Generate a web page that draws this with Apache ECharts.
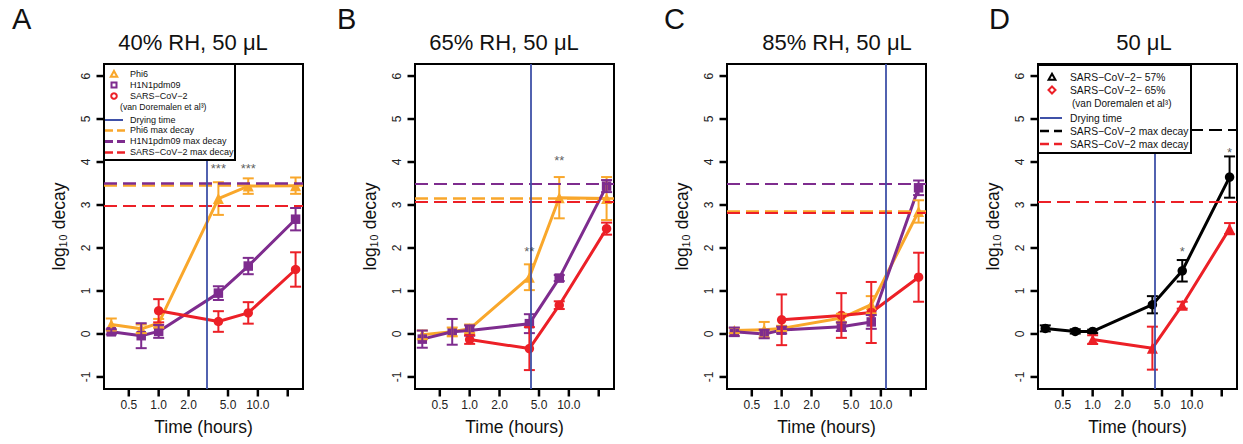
<!DOCTYPE html>
<html>
<head>
<meta charset="utf-8">
<script src="https://cdn.jsdelivr.net/npm/echarts@6/dist/echarts.min.js"></script>
<style>html,body{margin:0;padding:0;background:#fff}#c{width:1243px;height:444px}</style>
</head>
<body>
<div id="c"></div>
<script>
// ---------- data ----------
const hours = [0.333, 0.667, 1, 4, 8, 24];
const xTickHours = [0.5, 1, 2, 5, 10, 20];
const xTickLabels = ['0.5', '1.0', '2.0', '5.0', '10.0', ''];
const yTicks = [-1, 0, 1, 2, 3, 4, 5, 6];
const panelTitles = ['40% RH, 50 μL', '65% RH, 50 μL', '85% RH, 50 μL', '50 μL'];
const panelLetters = ['A', 'B', 'C', 'D'];

// Panel A
const phi6A = [0.22, 0.12, 0.25, 3.15, 3.44, 3.45];
const phi6AErr = [0.14, 0.1, 0.1, 0.38, 0.18, 0.19];
const h1n1A = [0.05, -0.04, 0.06, 0.95, 1.58, 2.67];
const h1n1AErr = [0.06, 0.29, 0.15, 0.16, 0.19, 0.26];
const sarsA = [null, null, 0.54, 0.29, 0.49, 1.5];
const sarsAErr = [null, null, 0.27, 0.24, 0.25, 0.4];
const maxA = {phi6: 3.45, h1n1: 3.5, sars: 2.99};
const dryA = 3.0;
const starsA = [[4, 3.85, '***'], [8, 3.85, '***']];

// Panel B
const phi6B = [-0.02, 0.05, 0.12, 1.32, 3.17, 3.15];
const phi6BErr = [0.1, 0.1, 0.1, 0.3, 0.48, 0.5];
const h1n1B = [-0.12, 0.05, 0.08, 0.24, 1.3, 3.44];
const h1n1BErr = [0.2, 0.3, 0.12, 0.22, 0.07, 0.14];
const sarsB = [null, null, -0.13, -0.34, 0.67, 2.45];
const sarsBErr = [null, null, 0.1, 0.5, 0.09, 0.14];
const maxB = {phi6: 3.15, h1n1: 3.5, sars: 3.07};
const dryB = 4.2;
const starsB = [[4, 1.93, '**'], [8, 4.03, '**']];

// Panel C
const phi6C = [0.08, 0.1, 0.13, 0.37, 0.68, 2.85];
const phi6CErr = [0.06, 0.18, 0.06, 0.1, 0.2, 0.26];
const h1n1C = [0.05, 0.0, 0.09, 0.17, 0.28, 3.4];
const h1n1CErr = [0.1, 0.1, 0.08, 0.1, 0.16, 0.17];
const sarsC = [null, null, 0.33, 0.43, 0.5, 1.32];
const sarsCErr = [null, null, 0.59, 0.52, 0.71, 0.57];
const maxC = {phi6: 2.86, h1n1: 3.5, sars: 2.82};
const dryC = 11.1;
const starsC = [];

// Panel D
const sars57D = [0.13, 0.06, 0.06, 0.68, 1.47, 3.65];
const sars57DErr = [0.07, 0.05, 0.04, 0.2, 0.25, 0.48];
const sars65D = [null, null, -0.13, -0.33, 0.67, 2.45];
const sars65DErr = [null, null, 0.1, 0.5, 0.08, 0.13];
const maxD = {s57: 4.75, s65: 3.07};
const dryD = 4.28;
const starsD = [[8, 1.93, '*'], [24, 4.23, '*']];

// ---------- styles ----------
const ORANGE = '#F9A72B', PURPLE = '#7E2C8E', RED = '#EC2027', BLUE = '#3F51A8', BLACK = '#000000';
const FONT = 'Liberation Sans, Arial, Helvetica, sans-serif';
const gridLefts = [104, 415, 727, 1038];
const GRID_TOP = 64, GRID_W = 199, GRID_H = 325;
const X_MIN = -0.551, X_MAX = 1.455, Y_MIN = -1.28, Y_MAX = 6.28;
const TICK_LEN = 7.5;

const lg = Math.log10;
function toPts(vals) {
  const out = [];
  hours.forEach((h, i) => { if (vals[i] != null) out.push([lg(h), vals[i]]); });
  return out;
}
function toErr(vals, errs) {
  const out = [];
  hours.forEach((h, i) => { if (vals[i] != null) out.push([lg(h), vals[i], errs[i]]); });
  return out;
}

const panels = [
  {series: [
    {name: 'Phi6', vals: phi6A, errs: phi6AErr, color: ORANGE, symbol: 'triangle', size: 11, max: maxA.phi6, dash: [13, 6], mw: 2.5},
    {name: 'H1N1pdm09', vals: h1n1A, errs: h1n1AErr, color: PURPLE, symbol: 'rect', size: 9.5, max: maxA.h1n1, dash: [13, 6], mw: 2.5},
    {name: 'SARS-CoV-2', vals: sarsA, errs: sarsAErr, color: RED, symbol: 'circle', size: 9.5, max: maxA.sars, dash: [13, 6], mw: 2}
  ], dry: dryA, stars: starsA},
  {series: [
    {name: 'Phi6', vals: phi6B, errs: phi6BErr, color: ORANGE, symbol: 'triangle', size: 11, max: maxB.phi6, dash: [13, 6], mw: 2.5},
    {name: 'H1N1pdm09', vals: h1n1B, errs: h1n1BErr, color: PURPLE, symbol: 'rect', size: 9.5, max: maxB.h1n1, dash: [13, 6], mw: 2},
    {name: 'SARS-CoV-2', vals: sarsB, errs: sarsBErr, color: RED, symbol: 'circle', size: 9.5, max: maxB.sars, dash: [13, 6], mw: 2}
  ], dry: dryB, stars: starsB},
  {series: [
    {name: 'Phi6', vals: phi6C, errs: phi6CErr, color: ORANGE, symbol: 'triangle', size: 11, max: maxC.phi6, dash: [13, 6], mw: 2.5},
    {name: 'H1N1pdm09', vals: h1n1C, errs: h1n1CErr, color: PURPLE, symbol: 'rect', size: 9.5, max: maxC.h1n1, dash: [13, 6], mw: 2},
    {name: 'SARS-CoV-2', vals: sarsC, errs: sarsCErr, color: RED, symbol: 'circle', size: 9.5, max: maxC.sars, dash: [13, 6], mw: 2}
  ], dry: dryC, stars: starsC},
  {series: [
    {name: 'SARS-CoV-2 57%', vals: sars57D, errs: sars57DErr, color: BLACK, symbol: 'circle', size: 9.5, max: maxD.s57, dash: [13, 6], mw: 2},
    {name: 'SARS-CoV-2 65%', vals: sars65D, errs: sars65DErr, color: RED, symbol: 'triangle', size: 11, max: maxD.s65, dash: [13, 6], mw: 2}
  ], dry: dryD, stars: starsD}
];

const grids = [], xAxes = [], yAxes = [], series = [];
panels.forEach((p, pi) => {
  grids.push({left: gridLefts[pi], top: GRID_TOP, width: GRID_W, height: GRID_H, show: true,
    borderColor: '#000', borderWidth: 2});
  xAxes.push({type: 'value', gridIndex: pi, min: X_MIN, max: X_MAX,
    name: 'Time (hours)', nameLocation: 'middle', nameGap: 29,
    nameTextStyle: {fontSize: 17.5, color: '#111', fontFamily: FONT},
    axisLine: {show: true, onZero: false, lineStyle: {color: '#000', width: 2}}, splitLine: {show: false},
    axisTick: {show: false},
    axisLabel: {show: true, margin: 10, fontSize: 12, color: '#222', fontFamily: FONT,
      customValues: xTickHours.filter((h, i) => xTickLabels[i] !== '').map(lg),
      formatter: v => { const i = xTickHours.findIndex(h => Math.abs(lg(h) - v) < 1e-6); return i >= 0 ? xTickLabels[i] : ''; }}
  });
  yAxes.push({type: 'value', gridIndex: pi, min: Y_MIN, max: Y_MAX,
    name: 'log₁₀ decay', nameLocation: 'middle', nameGap: 36, nameRotate: 90,
    nameTextStyle: {fontSize: 17.5, color: '#111', fontFamily: FONT},
    axisLine: {show: true, onZero: false, lineStyle: {color: '#000', width: 2}}, splitLine: {show: false},
    axisTick: {show: false},
    axisLabel: {show: true, rotate: 90, margin: 12, fontSize: 12, color: '#222', fontFamily: FONT,
      customValues: yTicks, formatter: v => String(Math.round(v))}
  });
  // reference lines (max decay + drying time)
  const ml = [];
  p.series.forEach(s => ml.push({yAxis: s.max, lineStyle: {color: s.color, type: s.dash, width: s.mw}}));
  ml.push({xAxis: lg(p.dry), lineStyle: {color: BLUE, type: 'solid', width: 1.8}});
  series.push({type: 'line', xAxisIndex: pi, yAxisIndex: pi, data: [], silent: true, z: 1,
    markLine: {symbol: ['none', 'none'], silent: true, label: {show: false}, animation: false, data: ml}});
  p.series.forEach(s => {
    series.push({type: 'line', name: s.name, xAxisIndex: pi, yAxisIndex: pi, data: toPts(s.vals),
      symbol: s.symbol, symbolSize: s.size, showAllSymbol: true, z: 3,
      lineStyle: {color: s.color, width: 3}, itemStyle: {color: s.color}});
    series.push({type: 'custom', xAxisIndex: pi, yAxisIndex: pi, data: toErr(s.vals, s.errs), z: 4,
      renderItem: (params, api) => {
        const x = api.value(0), y = api.value(1), e = api.value(2);
        const top = api.coord([x, y + e]), bot = api.coord([x, y - e]);
        const cw = 5.5;
        const st = {stroke: s.color, lineWidth: 2};
        return {type: 'group', children: [
          {type: 'line', shape: {x1: top[0], y1: top[1], x2: bot[0], y2: bot[1]}, style: st},
          {type: 'line', shape: {x1: top[0] - cw, y1: top[1], x2: top[0] + cw, y2: top[1]}, style: st},
          {type: 'line', shape: {x1: bot[0] - cw, y1: bot[1], x2: bot[0] + cw, y2: bot[1]}, style: st}
        ]};
      }});
  });
  if (p.stars.length) {
    series.push({type: 'scatter', xAxisIndex: pi, yAxisIndex: pi, symbolSize: 0, z: 5,
      data: p.stars.map(s => ({value: [lg(s[0]), s[1]], name: s[2]})),
      label: {show: true, position: 'inside', formatter: d => d.name, fontSize: 13, color: '#333', fontFamily: FONT}});
  }
});

// ---------- titles, letters, legends (graphic) ----------
const titleCenters = [193, 504, 837, 1144];
const letterX = [12, 337, 664, 989];
const graphic = [];
panelTitles.forEach((t, i) => {
  graphic.push({type: 'text', x: titleCenters[i], y: 42, z: 100,
    style: {text: t, font: '22px ' + FONT, fill: '#111', textAlign: 'center', textVerticalAlign: 'middle', align: 'center', verticalAlign: 'middle'}});
  graphic.push({type: 'text', x: letterX[i], y: 19, z: 100,
    style: {text: panelLetters[i], font: '29px ' + FONT, fill: '#111', textAlign: 'left', textVerticalAlign: 'middle', align: 'left', verticalAlign: 'middle'}});
});
function txt(x, y, t, size) {
  return {type: 'text', x: x, y: y, z: 102,
    style: {text: t, font: size + 'px ' + FONT, fill: '#111', textAlign: 'left', textVerticalAlign: 'middle', align: 'left', verticalAlign: 'middle'}};
}
function hline(x1, x2, y, color, dash, w) {
  return {type: 'line', z: 102, shape: {x1: x1, y1: y, x2: x2, y2: y}, style: {stroke: color, lineWidth: w || 2, lineDash: dash || null}};
}
function tri(cx, cy, r, color) {
  return {type: 'polygon', z: 102, shape: {points: [[cx, cy - r], [cx + r * 0.9, cy + r * 0.6], [cx - r * 0.9, cy + r * 0.6]]}, style: {fill: 'none', stroke: color, lineWidth: 2}};
}
// Legend A
graphic.push({type: 'rect', z: 101, shape: {x: 104, y: 64, width: 131, height: 96}, style: {fill: '#fff', stroke: '#000', lineWidth: 2}});
graphic.push(tri(114, 74.5, 3.6, ORANGE));
graphic.push({type: 'rect', z: 102, shape: {x: 111.5, y: 82.5, width: 5, height: 5}, style: {fill: 'none', stroke: PURPLE, lineWidth: 2}});
graphic.push({type: 'circle', z: 102, shape: {cx: 114, cy: 96, r: 2.8}, style: {fill: 'none', stroke: RED, lineWidth: 2}});
graphic.push(txt(130, 74, 'Phi6', 9));
graphic.push(txt(130, 85, 'H1N1pdm09', 9));
graphic.push(txt(130, 96, 'SARS−CoV−2', 9));
graphic.push(txt(120, 107, '(van Doremalen et al³)', 8.7));
graphic.push(hline(105, 123, 120, BLUE, null, 2));
graphic.push(txt(130, 120, 'Drying time', 9));
graphic.push(hline(105, 128, 130.5, ORANGE, [8, 4], 2.5));
graphic.push(txt(130, 130, 'Phi6 max decay', 9));
graphic.push(hline(105, 128, 141.5, PURPLE, [8, 4], 3));
graphic.push(txt(130, 141, 'H1N1pdm09 max decay', 9));
graphic.push(hline(105, 128, 152.5, RED, [8, 4], 2.5));
graphic.push(txt(130, 152, 'SARS−CoV−2 max decay', 9));
// Legend D
graphic.push({type: 'rect', z: 101, shape: {x: 1038, y: 65, width: 153, height: 88}, style: {fill: '#fff', stroke: '#000', lineWidth: 2}});
graphic.push(tri(1052, 77.5, 3.8, BLACK));
graphic.push({type: 'polygon', z: 102, shape: {points: [[1052, 86.5], [1055.5, 90], [1052, 93.5], [1048.5, 90]]}, style: {fill: 'none', stroke: RED, lineWidth: 2}});
graphic.push(txt(1070, 77, 'SARS−CoV−2− 57%', 10.3));
graphic.push(txt(1070, 90, 'SARS−CoV−2− 65%', 10.3));
graphic.push(txt(1072, 103, '(van Doremalen et al³)', 10));
graphic.push(hline(1040, 1062, 118, BLUE, null, 2));
graphic.push(txt(1070, 118, 'Drying time', 10.3));
graphic.push(hline(1040, 1062, 131, BLACK, [9, 5], 2.5));
graphic.push(txt(1070, 131, 'SARS−CoV−2 max decay', 10.3));
graphic.push(hline(1040, 1062, 144, RED, [9, 5], 2.5));
graphic.push(txt(1070, 144, 'SARS−CoV−2 max decay', 10.3));

const chart = echarts.init(document.getElementById('c'), null, {renderer: 'svg', width: 1243, height: 444});
chart.setOption({
  animation: false,
  backgroundColor: '#fff',
  textStyle: {fontFamily: FONT},
  grid: grids, xAxis: xAxes, yAxis: yAxes, series: series, graphic: graphic
});

// outward tick marks, placed through each panel's axis scales
const tickGraphic = [];
panels.forEach((p, pi) => {
  xTickHours.forEach(h => {
    const c = chart.convertToPixel({gridIndex: pi}, [lg(h), Y_MIN]);
    if (c) tickGraphic.push({type: 'line', z: 103, shape: {x1: c[0], y1: c[1], x2: c[0], y2: c[1] + TICK_LEN}, style: {stroke: '#000', lineWidth: 2.5}});
  });
  yTicks.forEach(v => {
    const c = chart.convertToPixel({gridIndex: pi}, [X_MIN, v]);
    if (c) tickGraphic.push({type: 'line', z: 103, shape: {x1: c[0], y1: c[1], x2: c[0] - TICK_LEN, y2: c[1]}, style: {stroke: '#000', lineWidth: 2.5}});
  });
});
chart.setOption({graphic: graphic.concat(tickGraphic)});
</script>
</body>
</html>
